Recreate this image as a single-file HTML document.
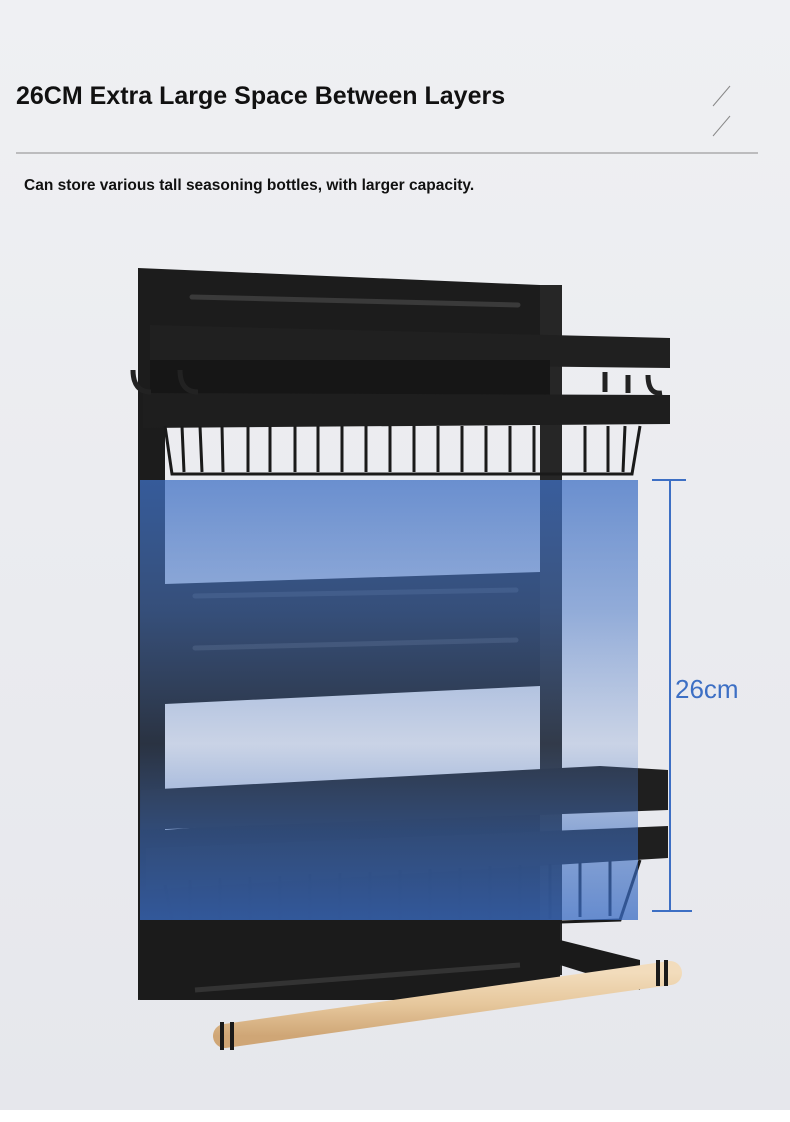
<!DOCTYPE html>
<html><head><meta charset="utf-8"><style>
html,body{margin:0;padding:0;width:790px;height:1122px;overflow:hidden;background:#ecedf1;font-family:"Liberation Sans",sans-serif}
</style></head><body>
<svg width="790" height="1122" viewBox="0 0 790 1122" xmlns="http://www.w3.org/2000/svg">
<defs>
<linearGradient id="bg" x1="0" y1="0" x2="0" y2="1"><stop offset="0" stop-color="#eff0f3"/><stop offset="1" stop-color="#e6e7ec"/></linearGradient>
<linearGradient id="blue" x1="0" y1="480" x2="0" y2="920" gradientUnits="userSpaceOnUse">
<stop offset="0" stop-color="#3f70c4" stop-opacity="0.75"/>
<stop offset="0.3" stop-color="#4a78c6" stop-opacity="0.55"/>
<stop offset="0.6" stop-color="#5a82c8" stop-opacity="0.22"/>
<stop offset="0.8" stop-color="#3f6fc0" stop-opacity="0.55"/>
<stop offset="1" stop-color="#3a6cc4" stop-opacity="0.75"/></linearGradient>
<linearGradient id="wood" x1="0" y1="0" x2="0" y2="1"><stop offset="0" stop-color="#f2dcbc"/><stop offset="0.5" stop-color="#e6c79c"/><stop offset="1" stop-color="#cfa676"/></linearGradient>
</defs>
<rect width="790" height="1110" fill="url(#bg)"/>
<rect y="1110" width="790" height="12" fill="#ffffff"/>
<text x="16" y="104" font-size="25" font-weight="bold" fill="#111">26CM Extra Large Space Between Layers</text>
<line x1="713" y1="106" x2="730" y2="86" stroke="#888" stroke-width="1"/>
<line x1="713" y1="136" x2="730" y2="116" stroke="#888" stroke-width="1"/>
<line x1="16" y1="153" x2="758" y2="153" stroke="#8a8a8a" stroke-width="1"/>
<text x="24" y="190" font-size="15.5" font-weight="bold" fill="#111">Can store various tall seasoning bottles, with larger capacity.</text>
<!-- back panel with windows -->
<path fill-rule="evenodd" fill="#1c1c1c" d="M138,268 L540,285 L562,285 L562,975 L138,1000 Z M165,420 L540,420 L540,572 L165,584 Z M165,704 L540,686 L540,800 L165,830 Z"/>
<rect x="540" y="285" width="22" height="690" fill="#262626"/>
<line x1="192" y1="297" x2="518" y2="305" stroke="#3a3a3a" stroke-width="5" stroke-linecap="round"/>
<!-- top shelf -->
<polygon points="150,325 670,338 670,368 150,362" fill="#202020"/>
<rect x="150" y="360" width="400" height="36" fill="#161616"/>
<polygon points="143,393 670,395 670,424 143,428" fill="#1e1e1e"/>
<path d="M133,370 q0,22 18,22 M180,370 q0,22 18,22 M605,372 v20 M628,375 v18 M648,375 q0,20 14,18" stroke="#222" stroke-width="5" fill="none"/>
<g stroke="#1a1a1a" stroke-width="3" fill="none">
<path d="M165,426 L172,474 L632,474 L640,426"/>
<path d="M182,426 l2,46 M200,426 l2,46 M222,426 l1,46 M248,426 v46 M270,426 v46 M295,426 v46 M318,426 v46 M342,426 v46 M366,426 v46 M390,426 v46 M414,426 v46 M438,426 v46 M462,426 v46 M486,426 v46 M510,426 v46 M534,426 v46 M585,426 v46 M608,426 v46 M625,426 l-2,46"/>
</g>
<!-- middle rails -->
<line x1="195" y1="596" x2="516" y2="590" stroke="#3a3a3a" stroke-width="5" stroke-linecap="round"/>
<line x1="195" y1="648" x2="516" y2="640" stroke="#3a3a3a" stroke-width="5" stroke-linecap="round"/>
<!-- bottom shelf -->
<polygon points="141,790 600,766 668,770 668,810 141,830" fill="#1f1f1f"/>
<polygon points="146,848 668,826 668,858 146,890" fill="#1f1f1f"/>
<g stroke="#1a1a1a" stroke-width="3" fill="none">
<path d="M165,885 L175,935 L620,920 L640,860"/>
<path d="M190,880 v55 M220,878 v56 M250,877 v56 M280,876 v56 M310,874 v56 M340,873 v56 M370,872 v56 M400,870 v56 M430,869 v56 M460,868 v55 M490,866 v55 M520,865 v55 M550,864 v55 M580,862 v55 M610,861 v55"/>
</g>
<!-- blue overlay -->
<rect x="140" y="480" width="498" height="440" fill="url(#blue)"/>
<!-- towel holder -->
<polygon points="560,940 640,960 640,990 560,965" fill="#1a1a1a"/>
<rect x="140" y="920" width="420" height="80" fill="#1b1b1b"/>
<line x1="195" y1="990" x2="520" y2="965" stroke="#333" stroke-width="5"/>
<line x1="225" y1="1036" x2="670" y2="973" stroke="url(#wood)" stroke-width="24" stroke-linecap="round"/>
<path d="M222,1022 v28 M232,1022 v28" stroke="#1a1a1a" stroke-width="4"/>
<path d="M658,960 v26 M666,960 v26" stroke="#1a1a1a" stroke-width="4"/>
<!-- measurement -->
<g stroke="#3d6fc4" stroke-width="2">
<line x1="670" y1="480" x2="670" y2="911"/>
<line x1="652" y1="480" x2="686" y2="480"/>
<line x1="652" y1="911" x2="692" y2="911"/>
</g>
<text x="675" y="698" font-size="26" fill="#3d6fc4">26cm</text>
</svg>
</body></html>
